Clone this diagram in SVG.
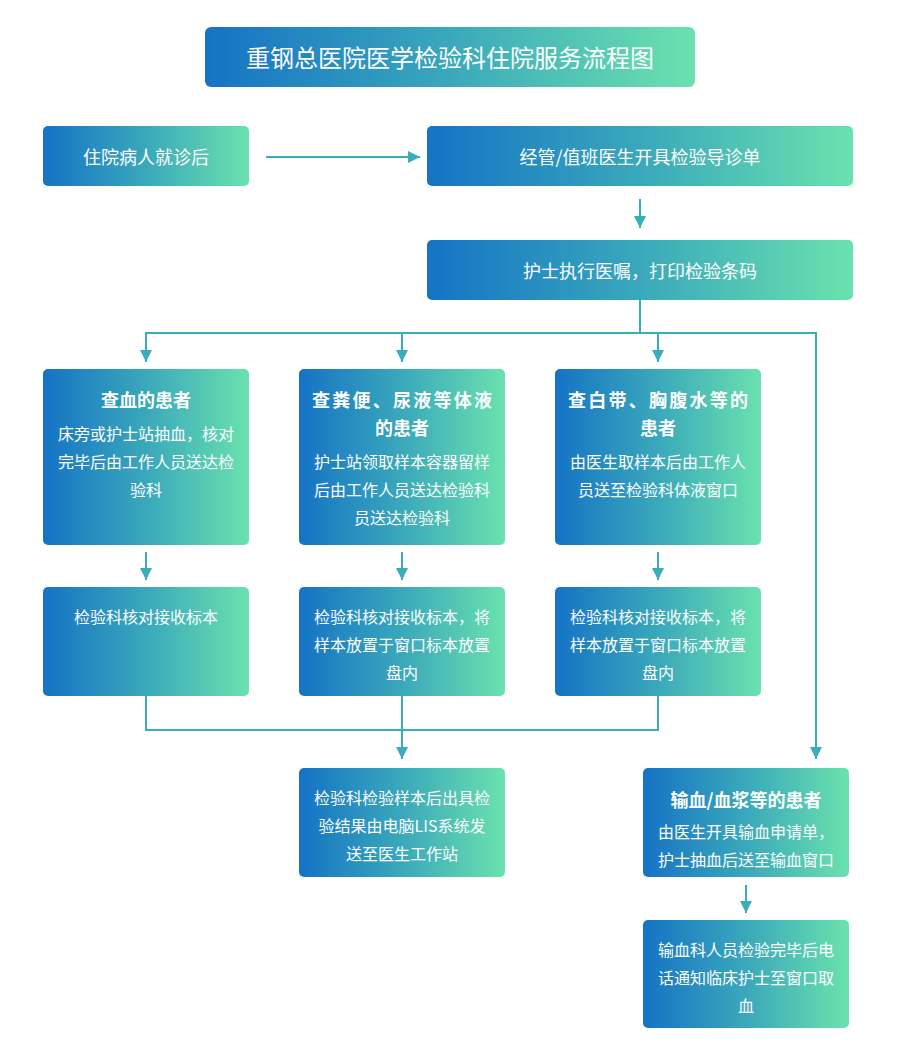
<svg xmlns="http://www.w3.org/2000/svg" width="900" height="1051" viewBox="0 0 900 1051">
<defs>
<linearGradient id="g" x1="0" y1="0" x2="1" y2="0">
<stop offset="0" stop-color="#1573c5"/>
<stop offset="0.5" stop-color="#3aa8bb"/>
<stop offset="1" stop-color="#6ae2ae"/>
</linearGradient>
<marker id="arr" markerUnits="userSpaceOnUse" markerWidth="12" markerHeight="12" viewBox="0 0 10 10" refX="10" refY="5" orient="auto">
<path d="M0,0 L10,5 L0,10 z" fill="#3aacbc"/>
</marker>
<style>
.box{fill:url(#g);}
text{fill:#ffffff;font-family:"Microsoft YaHei","Noto Sans CJK SC",sans-serif;text-anchor:middle;dominant-baseline:central;}
.t{font-size:24px;}
.m{font-size:18px;}
.h{font-size:18px;font-weight:bold;}
.b{font-size:16px;}
.c{fill:none;stroke:#3aacbc;stroke-width:2;}
</style>
</defs>
<rect width="900" height="1051" fill="#ffffff"/>

<g id="connectors">
<path class="c" d="M266,157 H420" marker-end="url(#arr)"/>
<path class="c" d="M640,199 V228" marker-end="url(#arr)"/>
<path class="c" d="M640,300 V333"/>
<path class="c" d="M146,362 V333 H816 V759" marker-end="url(#arr)"/>
<path class="c" d="M146,333 V362" marker-end="url(#arr)"/>
<path class="c" d="M402,333 V362" marker-end="url(#arr)"/>
<path class="c" d="M658,333 V362" marker-end="url(#arr)"/>
<path class="c" d="M146,552 V580" marker-end="url(#arr)"/>
<path class="c" d="M402,552 V580" marker-end="url(#arr)"/>
<path class="c" d="M658,552 V580" marker-end="url(#arr)"/>
<path class="c" d="M146,696 V730 H658 V696 M402,696 V730"/>
<path class="c" d="M402,730 V759" marker-end="url(#arr)"/>
<path class="c" d="M746,885 V913" marker-end="url(#arr)"/>
</g>

<g id="title">
<rect class="box" x="205" y="27" width="490" height="60" rx="6"/>
<text class="t" x="450" y="56">重钢总医院医学检验科住院服务流程图</text>
</g>

<g id="n1">
<rect class="box" x="43" y="126" width="206" height="60" rx="5"/>
<text class="m" x="146" y="156">住院病人就诊后</text>
</g>

<g id="n2">
<rect class="box" x="427" y="126" width="426" height="60" rx="5"/>
<text class="m" x="640" y="156">经管/值班医生开具检验导诊单</text>
</g>

<g id="n3">
<rect class="box" x="427" y="240" width="426" height="60" rx="5"/>
<text class="m" x="640" y="270">护士执行医嘱，打印检验条码</text>
</g>

<g id="n4">
<rect class="box" x="43" y="369" width="206" height="176" rx="5"/>
<text class="h" x="146" y="399">查血的患者</text>
<text class="b" x="146" y="433">床旁或护士站抽血，核对</text>
<text class="b" x="146" y="461">完毕后由工作人员送达检</text>
<text class="b" x="146" y="489">验科</text>
</g>

<g id="n5">
<rect class="box" x="299" y="369" width="206" height="176" rx="5"/>
<text class="h" x="402" y="399" textLength="180" lengthAdjust="spacing">查粪便、尿液等体液</text>
<text class="h" x="402" y="427">的患者</text>
<text class="b" x="402" y="461">护士站领取样本容器留样</text>
<text class="b" x="402" y="489">后由工作人员送达检验科</text>
<text class="b" x="402" y="517">员送达检验科</text>
</g>

<g id="n6">
<rect class="box" x="555" y="369" width="206" height="176" rx="5"/>
<text class="h" x="658" y="399" textLength="180" lengthAdjust="spacing">查白带、胸腹水等的</text>
<text class="h" x="658" y="427">患者</text>
<text class="b" x="658" y="461">由医生取样本后由工作人</text>
<text class="b" x="658" y="489">员送至检验科体液窗口</text>
</g>

<g id="n7">
<rect class="box" x="43" y="587" width="206" height="109" rx="5"/>
<text class="b" x="146" y="616">检验科核对接收标本</text>
</g>

<g id="n8">
<rect class="box" x="299" y="587" width="206" height="109" rx="5"/>
<text class="b" x="402" y="616">检验科核对接收标本，将</text>
<text class="b" x="402" y="644">样本放置于窗口标本放置</text>
<text class="b" x="402" y="672">盘内</text>
</g>

<g id="n9">
<rect class="box" x="555" y="587" width="206" height="109" rx="5"/>
<text class="b" x="658" y="616">检验科核对接收标本，将</text>
<text class="b" x="658" y="644">样本放置于窗口标本放置</text>
<text class="b" x="658" y="672">盘内</text>
</g>

<g id="n10">
<rect class="box" x="299" y="768" width="206" height="109" rx="5"/>
<text class="b" x="402" y="797">检验科检验样本后出具检</text>
<text class="b" x="402" y="825">验结果由电脑LIS系统发</text>
<text class="b" x="402" y="853">送至医生工作站</text>
</g>

<g id="n11">
<rect class="box" x="643" y="768" width="206" height="109" rx="5"/>
<text class="h" x="746" y="799">输血/血浆等的患者</text>
<text class="b" x="746" y="831">由医生开具输血申请单，</text>
<text class="b" x="746" y="859">护士抽血后送至输血窗口</text>
</g>

<g id="n12">
<rect class="box" x="643" y="920" width="206" height="108" rx="5"/>
<text class="b" x="746" y="949">输血科人员检验完毕后电</text>
<text class="b" x="746" y="977">话通知临床护士至窗口取</text>
<text class="b" x="746" y="1005">血</text>
</g>
</svg>
